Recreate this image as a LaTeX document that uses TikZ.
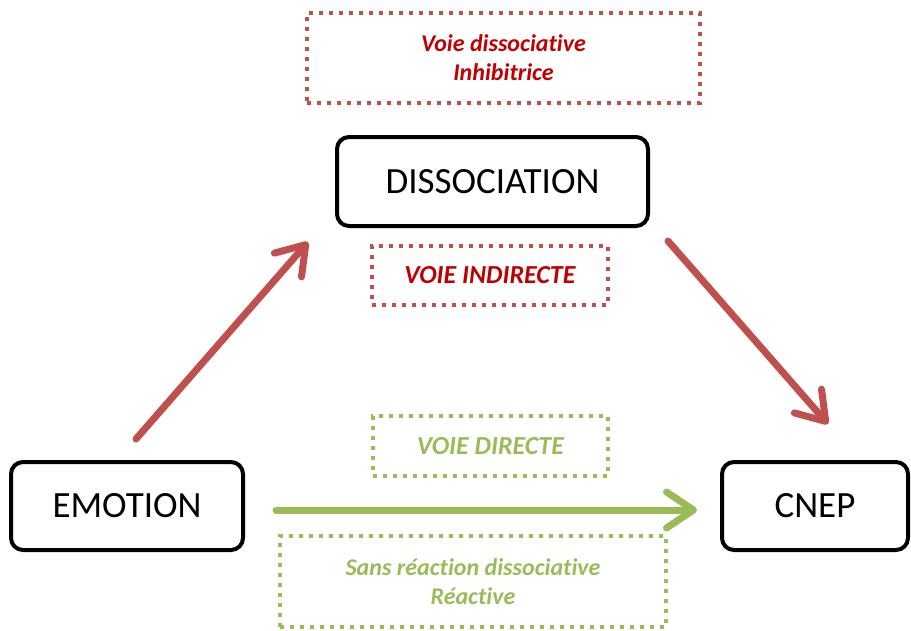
\documentclass[tikz,border=0pt]{standalone}
\usepackage{fontspec}
\setmainfont{Carlito}[Ligatures=NoCommon]
\usetikzlibrary{arrows.meta}
\definecolor{redline}{RGB}{192,80,77}
\definecolor{redtext}{RGB}{192,0,0}
\definecolor{greenline}{RGB}{155,187,89}
\tikzset{
  mainbox/.style={draw=black, line width=4pt, rounded corners=12pt, fill=white, inner sep=0pt, font=\fontsize{37}{44}\selectfont},
  dotbox/.style={line width=4pt, dash pattern=on 4pt off 6pt, inner sep=0pt, align=center, font=\fontsize{24}{29}\selectfont\bfseries\itshape},
  onebox/.style={font=\fontsize{26}{30}\selectfont\bfseries\itshape},
  redbox/.style={dotbox, draw=redline, text=redtext},
  greenbox/.style={dotbox, draw=greenline, text=greenline},
  bigarrow/.style={line width=7pt, line cap=round, -{Straight Barb[length=27pt, width=36pt, round, line width=7pt]}},
}
\begin{document}
\begin{tikzpicture}[x=1pt,y=-1pt]
\useasboundingbox (0,0) rectangle (911,630);
\node[redbox, minimum width=393pt, minimum height=90pt] (inhib) at (503.5,58) {Voie dissociative\\Inhibitrice};
\node[mainbox, minimum width=311pt, minimum height=89pt] (dissoc) at (492.5,181.5) {\raisebox{-2pt}{DISSOCIATION}};
\node[redbox, onebox, minimum width=236pt, minimum height=59pt] (indirect) at (490,275.5) {VOIE INDIRECTE};
\node[greenbox, onebox, minimum width=235pt, minimum height=60pt] (direct) at (490.5,446) {VOIE DIRECTE};
\node[greenbox, minimum width=386pt, minimum height=91pt] (sans) at (473,581.5) {Sans réaction dissociative\\Réactive};
\node[mainbox, minimum width=232pt, minimum height=88pt] (emotion) at (127,506) {\raisebox{-2pt}{EMOTION}};
\node[mainbox, minimum width=186pt, minimum height=88pt] (cnep) at (815,506) {\raisebox{-2pt}{CNEP}};
\coordinate (a1s) at (136,439);
\coordinate (a1e) at (308,242);
\coordinate (a2s) at (668,241);
\coordinate (a2e) at (828,424);
\coordinate (a3s) at (276,510);
\coordinate (a3e) at (697,510);
\draw[bigarrow, redline] (a1s) -- (a1e);
\draw[bigarrow, redline] (a2s) -- (a2e);
\draw[bigarrow, greenline] (a3s) -- (a3e);
\end{tikzpicture}
\end{document}
